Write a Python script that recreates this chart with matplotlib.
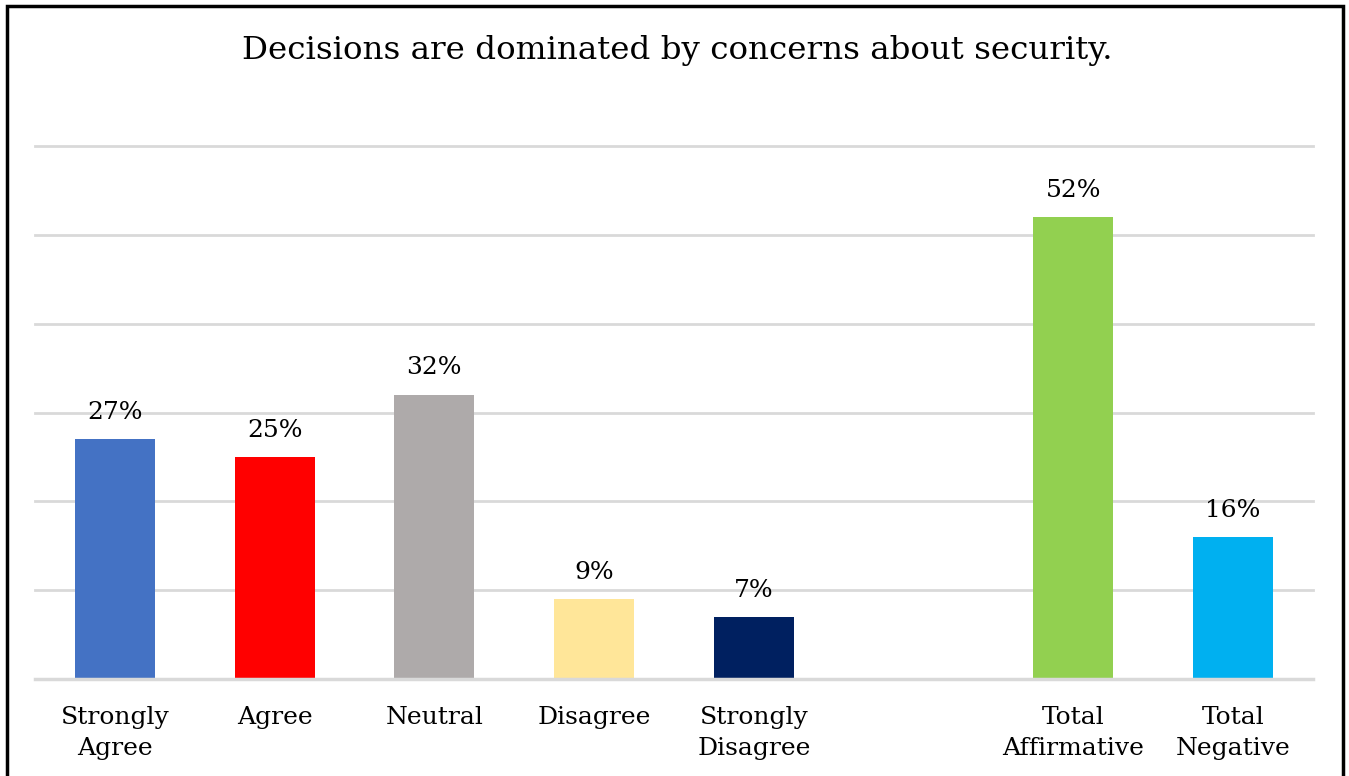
import matplotlib
matplotlib.use("Agg")
import matplotlib.pyplot as plt
from matplotlib.patches import Rectangle

categories = ["Strongly\nAgree", "Agree", "Neutral", "Disagree", "Strongly\nDisagree", "", "Total\nAffirmative", "Total\nNegative"]
values = [27, 25, 32, 9, 7, None, 52, 16]
colors = ["#4472C4", "#FF0000", "#AEAAAA", "#FFE699", "#002060", "none", "#92D050", "#00B0F0"]
title = "Decisions are dominated by concerns about security."

plt.rcParams['font.family'] = ['DejaVu Serif']

W, H = 1349, 776
fig = plt.figure(figsize=(W/100, H/100), dpi=100)
ax = fig.add_axes([35/W, (H-679)/H, (1313-35)/W, (679-146)/H])

xs = list(range(len(categories)))
for x, v, c in zip(xs, values, colors):
    if v is None:
        continue
    ax.bar(x, v, width=0.5, color=c, zorder=3)
    ax.annotate(f"{v}%", (x, v), xytext=(0, 11), textcoords="offset points",
                ha="center", va="bottom", fontsize=18, color="#000000")

ax.set_xlim(-0.5, len(categories) - 0.5)
ax.set_ylim(0, 60)
ax.set_yticks(range(0, 61, 10))
ax.set_yticklabels([])
ax.tick_params(axis="y", length=0)
ax.tick_params(axis="x", length=0, pad=19.5)
ax.set_xticks(xs)
ax.set_xticklabels(categories, fontsize=18, linespacing=1.42)
ax.grid(axis="y", color="#D9D9D9", linewidth=2, zorder=0)
for gl in ax.get_ygridlines():
    gl.set_clip_on(False)
ax.axhline(0, color="#D9D9D9", linewidth=2.5, zorder=4, clip_on=False)
for s in ax.spines.values():
    s.set_visible(False)

fig.text(677/W, 1 - 51/H, title, ha="center", va="center", fontsize=23.4)

fig.patches.append(Rectangle((7/W, -0.02), (1343-7)/W, 1 - 6/H + 0.02,
                             transform=fig.transFigure, fill=False,
                             edgecolor="black", linewidth=2.5, zorder=10))

fig.savefig("out.png", dpi=100)
